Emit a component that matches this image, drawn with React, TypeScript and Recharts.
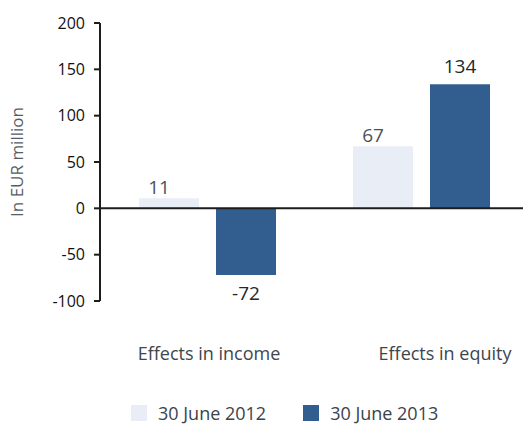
import { BarChart, Bar, XAxis, YAxis, ReferenceLine, LabelList, Legend } from "recharts";

const categories = ["Effects in income", "Effects in equity"];
const june2012 = [11, 67];
const june2013 = [-72, 134];
const yTicks = [-100, -50, 0, 50, 100, 150, 200];
const seriesNames = ["30 June 2012", "30 June 2013"];
const seriesColors = ["#e9edf6", "#325d8f"];

const data = categories.map((category, i) => ({
  category,
  y2012: june2012[i],
  y2013: june2013[i],
}));

function CategoryTick({ x, y, payload, index }: any) {
  // the labels in the original sit a bit right of their bar groups
  const shift = index === 1 ? 24 : 2;
  return (
    <text x={x + shift} y={y} dy="0.71em" textAnchor="middle" fill="#3d464f" fontSize={18}>
      {payload.value}
    </text>
  );
}

function LegendBox({ payload }: any) {
  return (
    <div style={{ display: "flex", alignItems: "center", paddingLeft: 131 }}>
      {(payload || []).map((entry: any, i: number) => (
        <div key={entry.value} style={{ display: "flex", alignItems: "center", marginRight: i === 0 ? 37 : 0 }}>
          <span style={{ display: "inline-block", width: 16, height: 16, background: entry.color, marginRight: 11 }} />
          <span style={{ color: "#3a434c", fontSize: 18, lineHeight: "20px" }}>{entry.value}</span>
        </div>
      ))}
    </div>
  );
}

export default function App() {
  return (
    <div
      style={{
        position: "absolute",
        left: 0,
        top: 0,
        width: 523,
        height: 425,
        overflow: "hidden",
        background: "#fff",
        fontFamily: "'Open Sans', sans-serif",
      }}
    >
      <BarChart
        width={528}
        height={425}
        data={data}
        margin={{ top: 23, right: 0, left: 0, bottom: 64 }}
        barGap={17}
      >
        <XAxis
          dataKey="category"
          axisLine={false}
          tickLine={false}
          tickSize={0}
          tickMargin={46}
          height={60}
          tick={<CategoryTick />}
          interval={0}
        />
        <YAxis
          width={100}
          domain={[-100, 200]}
          ticks={yTicks}
          interval={0}
          axisLine={{ stroke: "#1c1c1c", strokeWidth: 2 }}
          tickLine={{ stroke: "#1c1c1c", strokeWidth: 2 }}
          tickSize={6}
          tickMargin={9}
          tick={{ fill: "#111", fontSize: 16 }}
          label={{
            value: "In EUR million",
            angle: -90,
            position: "insideLeft",
            offset: 17,
            fill: "#555d66",
            fontSize: 17,
            style: { textAnchor: "middle" },
          }}
        />
        <Bar dataKey="y2012" name={seriesNames[0]} fill={seriesColors[0]} barSize={60} isAnimationActive={false}>
          <LabelList dataKey="y2012" position="top" offset={4} dx={-10} fill="#4a525a" fontSize={19} />
        </Bar>
        <Bar dataKey="y2013" name={seriesNames[1]} fill={seriesColors[1]} barSize={60} isAnimationActive={false}>
          <LabelList dataKey="y2013" position="top" offset={11} fill="#23282d" fontSize={19} />
        </Bar>
        <ReferenceLine y={0} stroke="#1c1c1c" strokeWidth={2} />
        <Legend
          verticalAlign="middle"
          align="center"
          content={<LegendBox />}
          wrapperStyle={{ top: 403, left: 0, width: 523 }}
        />
      </BarChart>
    </div>
  );
}
